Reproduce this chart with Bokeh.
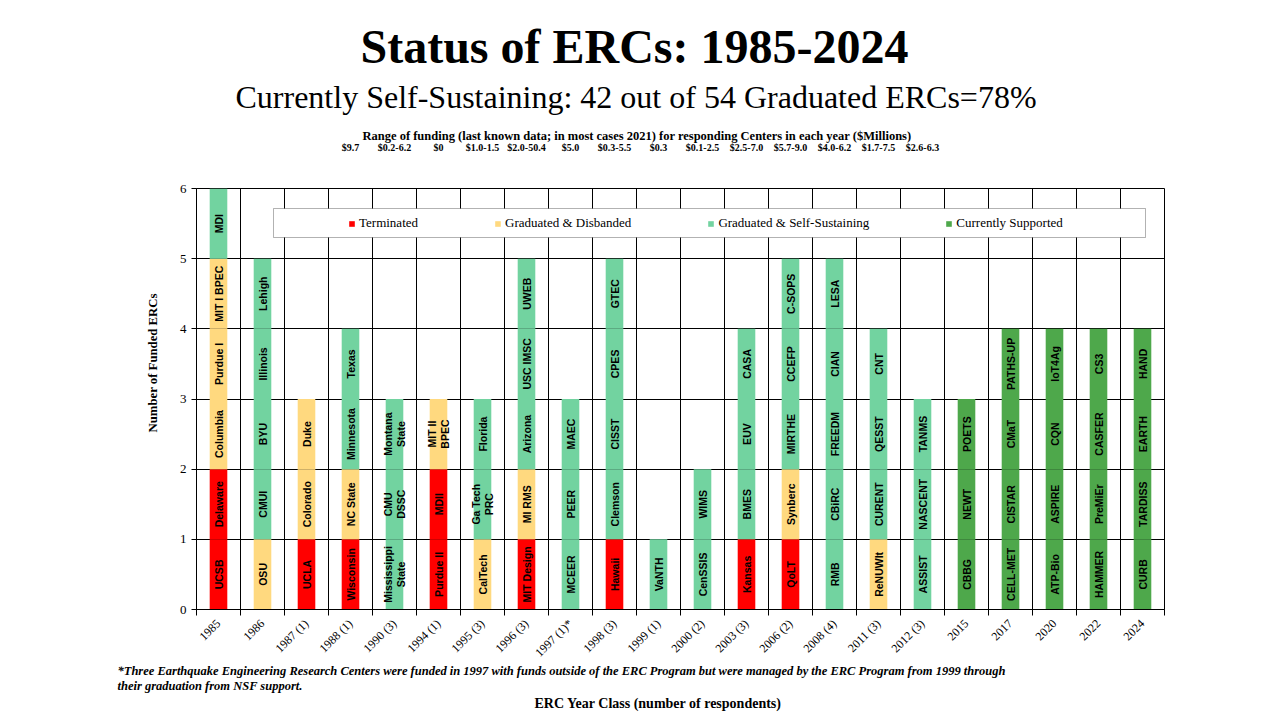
import math
from bokeh.plotting import figure
from bokeh.models import (Range1d, FixedTicker, ColumnDataSource, BoxAnnotation, Legend,
                          LegendItem, LinearAxis, Title)
from bokeh.core.properties import value
from bokeh.embed import file_html
from bokeh.resources import INLINE

# ---------------- data ----------------
year_labels = ["1985", "1986", "1987 (1)", "1988 (1)", "1990 (3)", "1994 (1)", "1995 (3)",
               "1996 (3)", "1997 (1)*", "1998 (3)", "1999 (1)", "2000 (2)", "2003 (3)",
               "2006 (2)", "2008 (4)", "2011 (3)", "2012 (3)", "2015", "2017", "2020",
               "2022", "2024"]

# centers in each year class, bottom to top
center_names = [
    ["UCSB", "Delaware", "Columbia", "Purdue I", "MIT I BPEC", "MDI"],
    ["OSU", "CMUI", "BYU", "Illinois", "Lehigh"],
    ["UCLA", "Colorado", "Duke"],
    ["Wisconsin", "NC State", "Minnesota", "Texas"],
    ["Mississippi\nState", "CMU\nDSSC", "Montana\nState"],
    ["Purdue II", "MDII", "MIT II\nBPEC"],
    ["CalTech", "Ga Tech\nPRC", "Florida"],
    ["MIT Design", "MI RMS", "Arizona", "USC IMSC", "UWEB"],
    ["MCEER", "PEER", "MAEC"],
    ["Hawaii", "Clemson", "CISST", "CPES", "GTEC"],
    ["VaNTH"],
    ["CenSSIS", "WIMS"],
    ["Kansas", "BMES", "EUV", "CASA"],
    ["QoLT", "Synberc", "MIRTHE", "CCEFP", "C-SOPS"],
    ["RMB", "CBiRC", "FREEDM", "CIAN", "LESA"],
    ["ReNUWIt", "CURENT", "QESST", "CNT"],
    ["ASSIST", "NASCENT", "TANMS"],
    ["CBBG", "NEWT", "POETS"],
    ["CELL-MET", "CISTAR", "CMaT", "PATHS-UP"],
    ["ATP-Bio", "ASPIRE", "CQN", "IoT4Ag"],
    ["HAMMER", "PreMiEr", "CASFER", "CS3"],
    ["CURB", "TARDISS", "EARTH", "HAND"],
]
# T = Terminated, D = Graduated & Disbanded, S = Graduated & Self-Sustaining, C = Currently Supported
center_status = [
    ["T", "T", "D", "D", "D", "S"],
    ["D", "S", "S", "S", "S"],
    ["T", "D", "D"],
    ["T", "D", "S", "S"],
    ["S", "S", "S"],
    ["T", "T", "D"],
    ["D", "S", "S"],
    ["T", "D", "S", "S", "S"],
    ["S", "S", "S"],
    ["T", "S", "S", "S", "S"],
    ["S"],
    ["S", "S"],
    ["T", "S", "S", "S"],
    ["T", "D", "S", "S", "S"],
    ["S", "S", "S", "S", "S"],
    ["D", "S", "S", "S"],
    ["S", "S", "S"],
    ["C", "C", "C"],
    ["C", "C", "C", "C"],
    ["C", "C", "C", "C"],
    ["C", "C", "C", "C"],
    ["C", "C", "C", "C"],
]

status_codes = ["T", "D", "S", "C"]
status_names = ["Terminated", "Graduated & Disbanded", "Graduated & Self-Sustaining",
                "Currently Supported"]
status_colors = ["#FF0000", "#FFD97F", "#72D3A0", "#4EA84B"]

funding_years = ["1988 (1)", "1990 (3)", "1994 (1)", "1995 (3)", "1996 (3)", "1997 (1)*",
                 "1998 (3)", "1999 (1)", "2000 (2)", "2003 (3)", "2006 (2)", "2008 (4)",
                 "2011 (3)", "2012 (3)"]
funding_ranges = ["$9.7", "$0.2-6.2", "$0", "$1.0-1.5", "$2.0-50.4", "$5.0", "$0.3-5.5",
                  "$0.3", "$0.1-2.5", "$2.5-7.0", "$5.7-9.0", "$4.0-6.2", "$1.7-7.5",
                  "$2.6-6.3"]

title_text = "Status of ERCs: 1985-2024"
subtitle_text = "Currently Self-Sustaining: 42 out of 54 Graduated ERCs=78%"
range_text = ("Range of funding (last known data;  in most cases 2021) for responding "
              "Centers in each year ($Millions)")
foot1 = ("*Three Earthquake Engineering Research  Centers  were funded in 1997 with funds "
         "outside of the ERC Program  but were managed by the ERC Program  from 1999 through")
foot2 = "their graduation from NSF support."
xtitle = "ERC Year Class (number of respondents)"
ytitle = "Number of Funded ERCs"

# ---------------- build sources ----------------
seg = {c: dict(x=[], bottom=[], top=[]) for c in status_codes}
lab = dict(x=[], y=[], text=[])
for i, (names, stats) in enumerate(zip(center_names, center_status)):
    for j, (n, s) in enumerate(zip(names, stats)):
        seg[s]["x"].append(i)
        seg[s]["bottom"].append(j)
        seg[s]["top"].append(j + 1)
        lab["x"].append(i)
        lab["y"].append(j + 0.5)
        lab["text"].append(n)

SERIF = "Liberation Serif"
W, H = 1280, 720
p = figure(width=W, height=H, output_backend="svg", toolbar_location=None, title=None,
           x_range=Range1d(-0.5, 21.5), y_range=Range1d(0, 6),
           min_border_left=196, min_border_right=116, min_border_top=188,
           min_border_bottom=111)
p.background_fill_color = "white"
p.border_fill_color = "white"
p.outline_line_color = "black"
p.outline_line_width = 1

renderers = []
for c, col in zip(status_codes, status_colors):
    r = p.vbar(x="x", bottom="bottom", top="top", width=0.4,
               source=ColumnDataSource(seg[c]), fill_color=col, line_color=None)
    renderers.append(r)

p.text(x="x", y="y", text="text", source=ColumnDataSource(lab), angle=math.pi / 2,
       text_align="center", text_baseline="middle", text_color="black",
       text_font=value("Liberation Sans"), text_font_style="bold",
       text_font_size="10.5px", text_line_height=1.15)

# x axis (category labels at centres, boundary ticks as minor ticks)
xa = p.xaxis[0]
xa.ticker = FixedTicker(ticks=list(range(len(year_labels))),
                        minor_ticks=[i - 0.5 for i in range(len(year_labels) + 1)])
xa.major_label_overrides = {i: t for i, t in enumerate(year_labels)}
xa.major_label_orientation = math.pi / 4
xa.major_tick_line_color = None
xa.major_tick_out = 0
xa.major_tick_in = 0
xa.minor_tick_out = 6
xa.minor_tick_in = 0
xa.minor_tick_line_color = "black"
xa.axis_line_color = "black"
xa.major_label_standoff = 6
xa.major_label_text_font = SERIF
xa.major_label_text_font_size = "12px"
xa.major_label_text_color = "black"

ya = p.yaxis[0]
ya.ticker = FixedTicker(ticks=[0, 1, 2, 3, 4, 5, 6])
ya.minor_tick_line_color = None
ya.major_tick_out = 5
ya.major_tick_in = 0
ya.major_tick_line_color = "black"
ya.axis_line_color = "black"
ya.major_label_standoff = 5
ya.major_label_text_font = SERIF
ya.major_label_text_font_size = "13px"
ya.major_label_text_color = "black"

p.xgrid.ticker = FixedTicker(ticks=[i + 0.5 for i in range(len(year_labels))])
p.xgrid.grid_line_color = "black"
p.ygrid.ticker = FixedTicker(ticks=[1, 2, 3, 4, 5, 6])
p.ygrid.grid_line_color = "black"

# legend box and legend
box = BoxAnnotation(left=77, right=949, bottom=372, top=401,
                    left_units="screen", right_units="screen",
                    bottom_units="screen", top_units="screen",
                    fill_color="white", fill_alpha=1.0, line_color="black", line_width=1)
p.add_layout(box)
legend = Legend(items=[LegendItem(label=n, renderers=[r]) for n, r in zip(status_names, renderers)],
                orientation="horizontal", location=(152, 378), padding=0, margin=0,
                spacing=76, label_standoff=4, glyph_width=7, glyph_height=7,
                border_line_color=None, background_fill_alpha=0.0,
                label_text_font=SERIF, label_text_font_size="13px",
                label_text_color="black")
p.add_layout(legend)

# funding ranges as an axis above the chart
fx = [year_labels.index(y) for y in funding_years]
fa = LinearAxis(ticker=FixedTicker(ticks=fx),
                major_label_overrides={i: t for i, t in zip(fx, funding_ranges)},
                axis_line_color=None, major_tick_line_color=None,
                minor_tick_line_color=None, major_tick_out=0, major_tick_in=0,
                major_label_standoff=36, major_label_text_font=SERIF,
                major_label_text_font_style="bold", major_label_text_font_size="10px",
                major_label_text_color="black")
p.add_layout(fa, "above")


def add_title(text, place, size, style, align="left", offset=0, standoff=0):
    p.add_layout(Title(text=text, align=align, offset=offset, standoff=standoff,
                       text_font=SERIF, text_font_size=size, text_font_style=style,
                       text_color="black"), place)


add_title(range_text, "above", "12.5px", "bold", offset=166, standoff=-8)
add_title(subtitle_text, "above", "32px", "normal", offset=39, standoff=31)
add_title(title_text, "above", "48px", "bold", offset=164, standoff=-22)

add_title(foot1, "below", "12.5px", "bold italic", offset=-79, standoff=-12)
add_title(foot2, "below", "12.5px", "bold italic", offset=-79, standoff=10)
add_title(xtitle, "below", "14px", "bold", offset=338, standoff=-8)

add_title(ytitle, "left", "12.75px", "bold", offset=177, standoff=33)

open("out.html", "w").write(file_html(p, INLINE))
